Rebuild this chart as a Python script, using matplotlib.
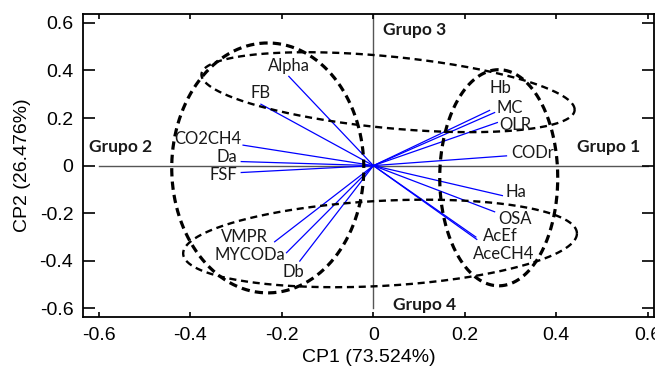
import numpy as np
import matplotlib
matplotlib.use("Agg")
import matplotlib.pyplot as plt

# ---- data ----
variables = ['Alpha', 'FB', 'CO2CH4', 'Da', 'FSF', 'VMPR', 'MYCODa', 'Db',
             'Hb', 'MC', 'OLR', 'CODr', 'Ha', 'OSA', 'AcEf', 'AceCH4']
pc1 = [-0.185, -0.246, -0.285, -0.289, -0.289, -0.216, -0.190, -0.161,
       0.254, 0.265, 0.271, 0.291, 0.282, 0.265, 0.224, 0.226]
pc2 = [0.375, 0.258, 0.086, 0.017, -0.029, -0.320, -0.366, -0.401,
       0.232, 0.223, 0.181, 0.041, -0.126, -0.194, -0.300, -0.310]

groups = ['Grupo 1', 'Grupo 2', 'Grupo 3', 'Grupo 4']
group_x = [0.445, -0.622, 0.020, 0.043]
group_y = [0.080, 0.080, 0.568, -0.586]

# ellipses: center x, center y, half width (x), half height (y), y-shear at tips
ell_cx = [0.274, -0.231, 0.032, 0.0145]
ell_cy = [-0.051, -0.0097, 0.3085, -0.327]
ell_a = [0.129, 0.210, 0.408, 0.4305]
ell_b = [0.454, 0.525, 0.151, 0.179]
ell_k = [0.0, 0.0, -0.0735, 0.042]

xticks = [-0.6, -0.4, -0.2, 0, 0.2, 0.4, 0.6]
xticklabels = ['-0.6', '-0.4', '-0.2', '0', '0.2', '0.4', '0.6']
yticks = [-0.6, -0.4, -0.2, 0, 0.2, 0.4, 0.6]
yticklabels = ['-0.6', '-0.4', '-0.2', '0', '0.2', '0.4', '0.6']

# label offsets (pixels) and alignment
offsets = {
    'Alpha': (0, 10.7, 'center'), 'FB': (0, 11, 'center'),
    'CO2CH4': (-1.6, 6, 'right'), 'Da': (-3.7, 5, 'right'),
    'FSF': (-3.7, -2.3, 'right'), 'VMPR': (-7, 4.4, 'right'),
    'MYCODa': (-1.7, -2.3, 'right'), 'Db': (-6, -10.7, 'center'),
    'Hb': (0, 22.4, 'left'), 'MC': (1.7, 4.4, 'left'),
    'OLR': (2.3, -2.3, 'left'), 'CODr': (5, 3.3, 'left'),
    'Ha': (3.3, 3.4, 'left'), 'OSA': (3.3, -7.6, 'left'),
    'AcEf': (7.3, 1.3, 'left'), 'AceCH4': (-4, -14.7, 'left'),
}

fig = plt.figure(figsize=(6.55, 3.73), dpi=100)
ax = fig.add_axes([83/655, 56/373, 571/655, 303/373])
ax.set_xlim(-0.635, 0.6135)
ax.set_ylim(-0.636, 0.637)

# reference axes lines
ax.plot([-0.6, 0.6], [0, 0], color='#555555', lw=1.0, zorder=1)
ax.plot([0, 0], [-0.6, 0.637], color='#555555', lw=1.0, zorder=1)

# loading vectors
for name, x, y in zip(variables, pc1, pc2):
    ax.plot([0, x], [0, y], color='#0000ff', lw=0.9, zorder=3)
    dx, dy, ha = offsets[name]
    ax.annotate(name, (x, y), xytext=(dx, dy), textcoords='offset pixels',
                ha=ha, va='center', fontsize=12, family='Lato', color='#1a1a1a',
                zorder=6)

# ellipses
t = np.linspace(0, 2*np.pi, 400)
for i in range(4):
    ex = ell_cx[i] + ell_a[i]*np.cos(t)
    ey = ell_cy[i] + ell_b[i]*np.sin(t) + ell_k[i]*np.cos(t)
    if i < 2:
        ax.plot(ex, ey, color='black', lw=2.3, dashes=(2.6, 1.6), zorder=4)
    else:
        ax.plot(ex, ey, color='black', lw=1.7, dashes=(3.0, 2.0), zorder=4)

for g, x, y in zip(groups, group_x, group_y):
    ax.text(x, y, g, ha='left', va='center', fontsize=12.5, family='Lato',
            fontweight='bold', color='#1a1a1a', zorder=6)

ax.set_xticks(xticks)
ax.set_xticklabels(xticklabels)
ax.set_yticks(yticks)
ax.set_yticklabels(yticklabels)
ax.tick_params(axis='both', direction='in', labelsize=14, colors='black')
ax.tick_params(axis='y', length=8.5, width=1.2, pad=7, right=True)
ax.tick_params(axis='x', length=3.6, width=1.2, pad=7, top=True)
for lab in ax.get_xticklabels() + ax.get_yticklabels():
    lab.set_family('Liberation Sans')
for s in ax.spines.values():
    s.set_linewidth(1.3)

ax.set_xlabel('CP1 (73.524%)', fontsize=14, family='Liberation Sans', labelpad=4)
ax.set_ylabel('CP2 (26.476%)', fontsize=14, family='Liberation Sans', labelpad=6)

fig.savefig('out.png', dpi=100)
